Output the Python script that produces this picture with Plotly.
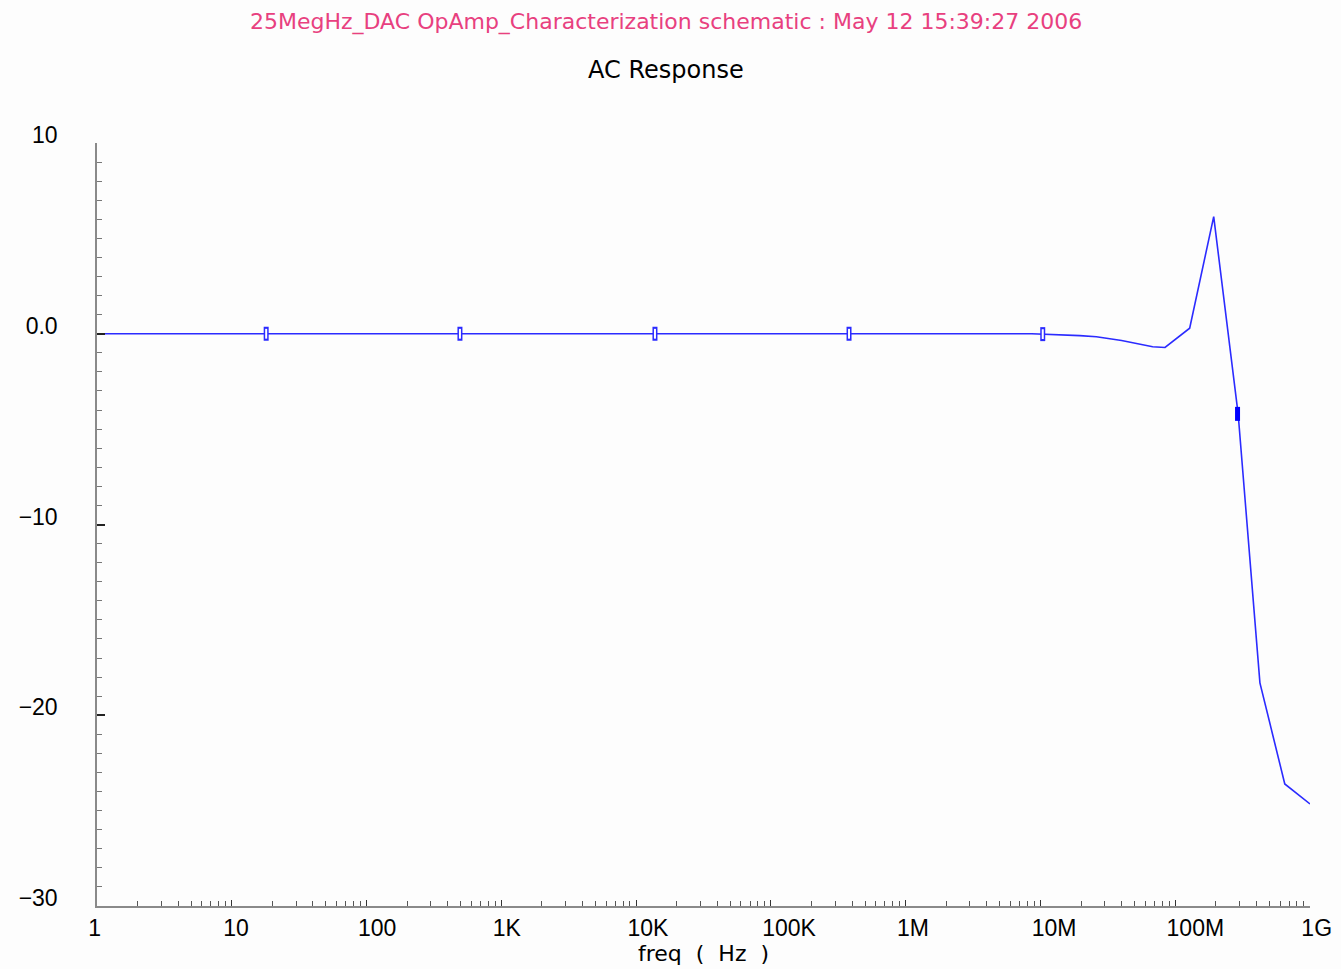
import plotly.graph_objects as go

# Curve data (freq in Hz, magnitude in dB)
freq = [1, 1e2, 1e4, 1e6, 8.6e6, 1.96e7, 2.6e7, 4.0e7, 6.8e7, 8.4e7, 1.28e8, 1.93e8, 2.93e8, 4.25e8, 6.5e8, 1.0e9]
gain_db = [0.0, 0.0, 0.0, 0.0, 0.0, -0.10, -0.16, -0.35, -0.68, -0.72, 0.29, 6.14, -4.21, -18.3, -23.6, -24.65]

# Symbol markers placed along the trace
mark_freq = [18, 493, 1.38e4, 3.8e5, 1.04e7]
mark_db = [0.0, 0.0, 0.0, 0.0, -0.02]
mark_fill_freq = [2.9e8]
mark_fill_db = [-4.2]

x_tickvals = [1, 10, 100, 1e3, 1e4, 1e5, 1e6, 1e7, 1e8, 1e9]
x_ticktext = ["1", "10", "100", "1K", "10K", "100K", "1M", "10M", "100M", "1G"]
y_tickvals = [10, 0, -10, -20, -30]
y_ticktext = ["10", "0.0", "\u221210", "\u221220", "\u221230"]

title_text = "25MegHz_DAC OpAmp_Characterization schematic : May 12 15:39:27 2006"
subtitle_text = "AC Response"
x_title = "freq \u00a0(\u00a0 Hz \u00a0)"

BLUE = "#2b2bff"
FONT = "Liberation Sans"
TFONT = "DejaVu Sans"

fig = go.Figure()
fig.add_trace(go.Scatter(x=freq, y=gain_db, mode="lines",
                         line=dict(color=BLUE, width=1.6), showlegend=False, hoverinfo="skip"))
fig.add_trace(go.Scatter(x=mark_freq, y=mark_db, mode="markers",
                         marker=dict(symbol="line-ns-open", size=10, color=BLUE,
                                     line=dict(color=BLUE, width=5)),
                         showlegend=False, hoverinfo="skip"))
fig.add_trace(go.Scatter(x=mark_freq, y=mark_db, mode="markers",
                         marker=dict(symbol="line-ns-open", size=7, color="white",
                                     line=dict(color="white", width=2)),
                         showlegend=False, hoverinfo="skip"))
fig.add_trace(go.Scatter(x=mark_fill_freq, y=mark_fill_db, mode="markers",
                         marker=dict(symbol="line-ns-open", size=10, color="#0000ff",
                                     line=dict(color="#0000ff", width=5)),
                         showlegend=False, hoverinfo="skip"))

fig.update_layout(
    width=1341, height=969,
    margin=dict(l=97, r=31, t=143, b=63, autoexpand=False),
    paper_bgcolor="#fdfdfd", plot_bgcolor="#fdfdfd",
    font=dict(family=FONT, color="black"),
    xaxis=dict(type="log", range=[0, 9], tickvals=x_tickvals, ticktext=x_ticktext, automargin=False,
               showgrid=False, zeroline=False, showline=True, linecolor="#8a8a8a", linewidth=1.5,
               ticks="inside", ticklen=6, tickcolor="#333333", tickwidth=1.2,
               minor=dict(ticks="inside", ticklen=5, tickcolor="#555555", tickwidth=1, dtick="D1", showgrid=False),
               tickfont=dict(size=23, family=FONT), ticklabelposition="outside right",
               ticklabelshift=-10, ticklabelstandoff=1,
               title=dict(text=x_title, font=dict(size=22, family=TFONT), standoff=0)),
    yaxis=dict(range=[-30, 10], tickvals=y_tickvals, ticktext=y_ticktext, automargin=False,
               showgrid=False, zeroline=False, showline=True, linecolor="#8a8a8a", linewidth=1.5,
               ticks="inside", ticklen=8, tickcolor="#222222", tickwidth=1.5,
               minor=dict(ticks="inside", ticklen=5, tickcolor="#777777", tickwidth=1, dtick=1, showgrid=False),
               tickfont=dict(size=23, family=FONT), ticklabelshift=-8, ticklabelstandoff=33),
    annotations=[
        dict(text=title_text, xref="paper", yref="paper", x=0.469, y=1.0, yshift=121,
             showarrow=False, font=dict(size=22, color="#e8407f", family=TFONT), xanchor="center", yanchor="middle"),
        dict(text=subtitle_text, xref="paper", yref="paper", x=0.469, y=1.0, yshift=73,
             showarrow=False, font=dict(size=24, color="black", family=TFONT), xanchor="center", yanchor="middle"),
    ],
)

fig.write_html("out.html")
